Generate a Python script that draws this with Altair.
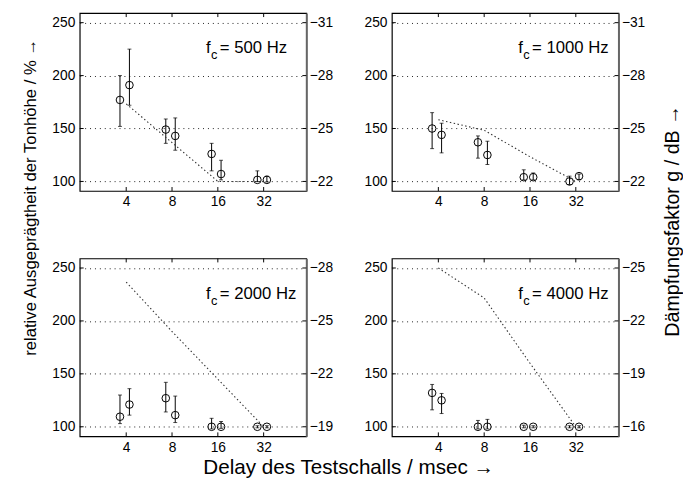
import altair as alt
import pandas as pd

# ---------------- data ----------------
X_TICKS = [4, 8, 16, 32]
X_POS = [3.64, 4.2, 7.28, 8.4, 14.56, 16.8, 29.1, 33.6]
Y_TICKS = [100, 150, 200, 250]
X_DOMAIN = [1.98, 61]
Y_DOMAIN = [91, 259]

PANELS = ["500", "1000", "2000", "4000"]

MEAN = {
    "500":  [177, 191, 149, 143, 126, 107, 101.5, 101.5],
    "1000": [150, 144, 137, 125, 104, 104, 100, 105],
    "2000": [109.5, 121, 127, 111, 100, 100, 100, 100],
    "4000": [132, 125, 100, 100, 100, 100, 100, 100],
}
UPPER = {
    "500":  [200, 225, 159, 160, 136, 120, 110, 105],
    "1000": [165, 155, 143, 138, 111, 108, 105, 107],
    "2000": [130, 136, 142, 129, 108, 105, 101, 101],
    "4000": [140, 131.5, 106, 107, 101.5, 101, 101, 101],
}
LOWER = {
    "500":  [152, 172, 136, 129.5, 110, 101.5, 100, 99.5],
    "1000": [131, 127, 122, 116, 101.5, 101.5, 97, 101.5],
    "2000": [103, 111, 114, 104, 98, 98.5, 99, 99],
    "4000": [116, 112.5, 98, 98, 99, 99, 99, 99],
}

LINE_X = [4, 8, 16, 32]
LINE_DB = {
    "500":  [-26.4, -24.2, -22.0, -22.0],
    "1000": [-25.5, -24.9, -23.4, -22.0],
    "2000": [-27.2, -24.4, -21.7, -19.0],
    "4000": [-25.0, -23.3, -19.6, -16.0],
}
DB_AT_100 = {"500": -22, "1000": -22, "2000": -19, "4000": -16}
DB_TICKS = {
    "500":  [-31, -28, -25, -22],
    "1000": [-31, -28, -25, -22],
    "2000": [-28, -25, -22, -19],
    "4000": [-25, -22, -19, -16],
}
DB_PER_PERCENT = 3 / 50

LABEL_X = 13.4
LABEL_Y = 221

LEFT_TITLE = "relative Ausgeprägtheit der Tonhöhe / % →"
RIGHT_TITLE = "Dämpfungsfaktor g / dB →"
BOTTOM_TITLE = "Delay des Testschalls / msec →"

# ---------------- styling / layout ----------------
W, H = 230.6, 181
FONT = "Liberation Sans"


def panel(idx, fc):
    df = pd.DataFrame({"x": X_POS, "m": MEAN[fc], "lo": LOWER[fc], "hi": UPPER[fc]})
    xt = pd.DataFrame({"t": X_TICKS})
    yt = pd.DataFrame({"v": Y_TICKS})
    lab = pd.DataFrame({"x": [LABEL_X], "y": [LABEL_Y], "txt": [f"= {fc} Hz"]})
    line = pd.DataFrame({"x": LINE_X, "db": LINE_DB[fc]})

    xaxis_kw = dict(values=X_TICKS, format="d", grid=False, domain=False,
                    ticks=False, labelPadding=4, labelFlush=False)
    if idx == 2:
        xaxis_kw.update(title=BOTTOM_TITLE, titleX=273.3, titleY=32, titleFontSize=21,
                        titleBaseline="middle", titleAnchor="middle", titleAlign="center")
    else:
        xaxis_kw.update(title=None)
    xscale = alt.Scale(type="log", base=2, domain=X_DOMAIN, nice=False)
    xenc = lambda f: alt.X(f"{f}:Q", scale=xscale, axis=alt.Axis(**xaxis_kw))

    yaxis_kw = dict(values=Y_TICKS, grid=True, gridDash=[1, 4], gridColor="#222",
                    gridOpacity=1, gridWidth=1, domain=False, ticks=False, labelPadding=5)
    if idx == 0:
        yaxis_kw.update(title=LEFT_TITLE, titleX=-50.5, titleY=187, titleAngle=270,
                        titleFontSize=17, titleBaseline="middle", titleAlign="center")
    else:
        yaxis_kw.update(title=None)
    yscale = alt.Scale(domain=Y_DOMAIN, nice=False, zero=False)
    yenc = lambda f: alt.Y(f"{f}:Q", scale=yscale, axis=alt.Axis(**yaxis_kw))

    bars = alt.Chart(df).mark_rule(color="black", strokeWidth=1).encode(
        x=xenc("x"), y=yenc("lo"), y2="hi:Q")
    cap_hi = alt.Chart(df).mark_tick(color="black", thickness=1, size=4,
                                     orient="horizontal").encode(x=xenc("x"), y=yenc("hi"))
    cap_lo = alt.Chart(df).mark_tick(color="black", thickness=1, size=4,
                                     orient="horizontal").encode(x=xenc("x"), y=yenc("lo"))
    pts = alt.Chart(df).mark_point(shape="circle", size=60, filled=False, color="black",
                                   strokeWidth=1, opacity=1).encode(x=xenc("x"), y=yenc("m"))

    xt_bot = alt.Chart(xt).mark_rule(color="black", strokeWidth=1).encode(
        x=xenc("t"), y=alt.value(H), y2=alt.value(H - 4))
    xt_top = alt.Chart(xt).mark_rule(color="black", strokeWidth=1).encode(
        x=xenc("t"), y=alt.value(0), y2=alt.value(4))
    yt_l = alt.Chart(yt).mark_rule(color="black", strokeWidth=1).encode(
        y=yenc("v"), x=alt.value(0), x2=alt.value(4))
    yt_r = alt.Chart(yt).mark_rule(color="black", strokeWidth=1).encode(
        y=yenc("v"), x=alt.value(W - 4), x2=alt.value(W))

    t_f = alt.Chart(lab).mark_text(text="f", align="left", baseline="alphabetic",
                                   font=FONT, fontSize=17, color="black").encode(
        x=xenc("x"), y=yenc("y"))
    t_c = alt.Chart(lab).mark_text(text="c", align="left", baseline="alphabetic",
                                   font=FONT, fontSize=13, dx=5, dy=6, color="black").encode(
        x=xenc("x"), y=yenc("y"))
    t_rest = alt.Chart(lab).mark_text(align="left", baseline="alphabetic",
                                      font=FONT, fontSize=17, dx=14, color="black").encode(
        x=xenc("x"), y=yenc("y"), text="txt:N")

    inner = alt.layer(bars, cap_hi, cap_lo, pts, xt_bot, xt_top, yt_l, yt_r, t_f, t_c, t_rest)

    base = DB_AT_100[fc]
    db_dom = [base - (Y_DOMAIN[0] - 100) * DB_PER_PERCENT,
              base - (Y_DOMAIN[1] - 100) * DB_PER_PERCENT]
    raxis_kw = dict(orient="right", values=DB_TICKS[fc], format="d", grid=False,
                    ticks=False, domain=True, domainColor="#666", domainWidth=2,
                    labelPadding=3)
    if idx == 1:
        raxis_kw.update(title=RIGHT_TITLE, titleX=55, titleY=211, titleAngle=270,
                        titleFontSize=20, titleBaseline="middle", titleAlign="center")
    else:
        raxis_kw.update(title=None)
    dline = alt.Chart(line).mark_line(color="#333", strokeWidth=1.1,
                                      strokeDash=[1.5, 2.5]).encode(
        x=xenc("x"),
        y=alt.Y("db:Q", scale=alt.Scale(domain=db_dom, nice=False, zero=False),
                axis=alt.Axis(**raxis_kw)))

    return alt.layer(inner, dline).resolve_scale(y="independent").properties(width=W, height=H)


p = [panel(i, fc) for i, fc in enumerate(PANELS)]
chart = alt.concat(*p, columns=2, spacing={"row": 68.7, "column": 86.7},
                   bounds="flush").properties(
    padding={"left": 12, "top": -1, "right": 0, "bottom": 0}
).configure_view(stroke="black", strokeWidth=1.2).configure_axis(
    labelFont=FONT, titleFont=FONT, labelFontSize=14, titleFontSize=16,
    titleFontWeight="normal", labelColor="black", titleColor="black"
)

chart.save("out.html", embed_options={"renderer": "svg", "actions": False})
